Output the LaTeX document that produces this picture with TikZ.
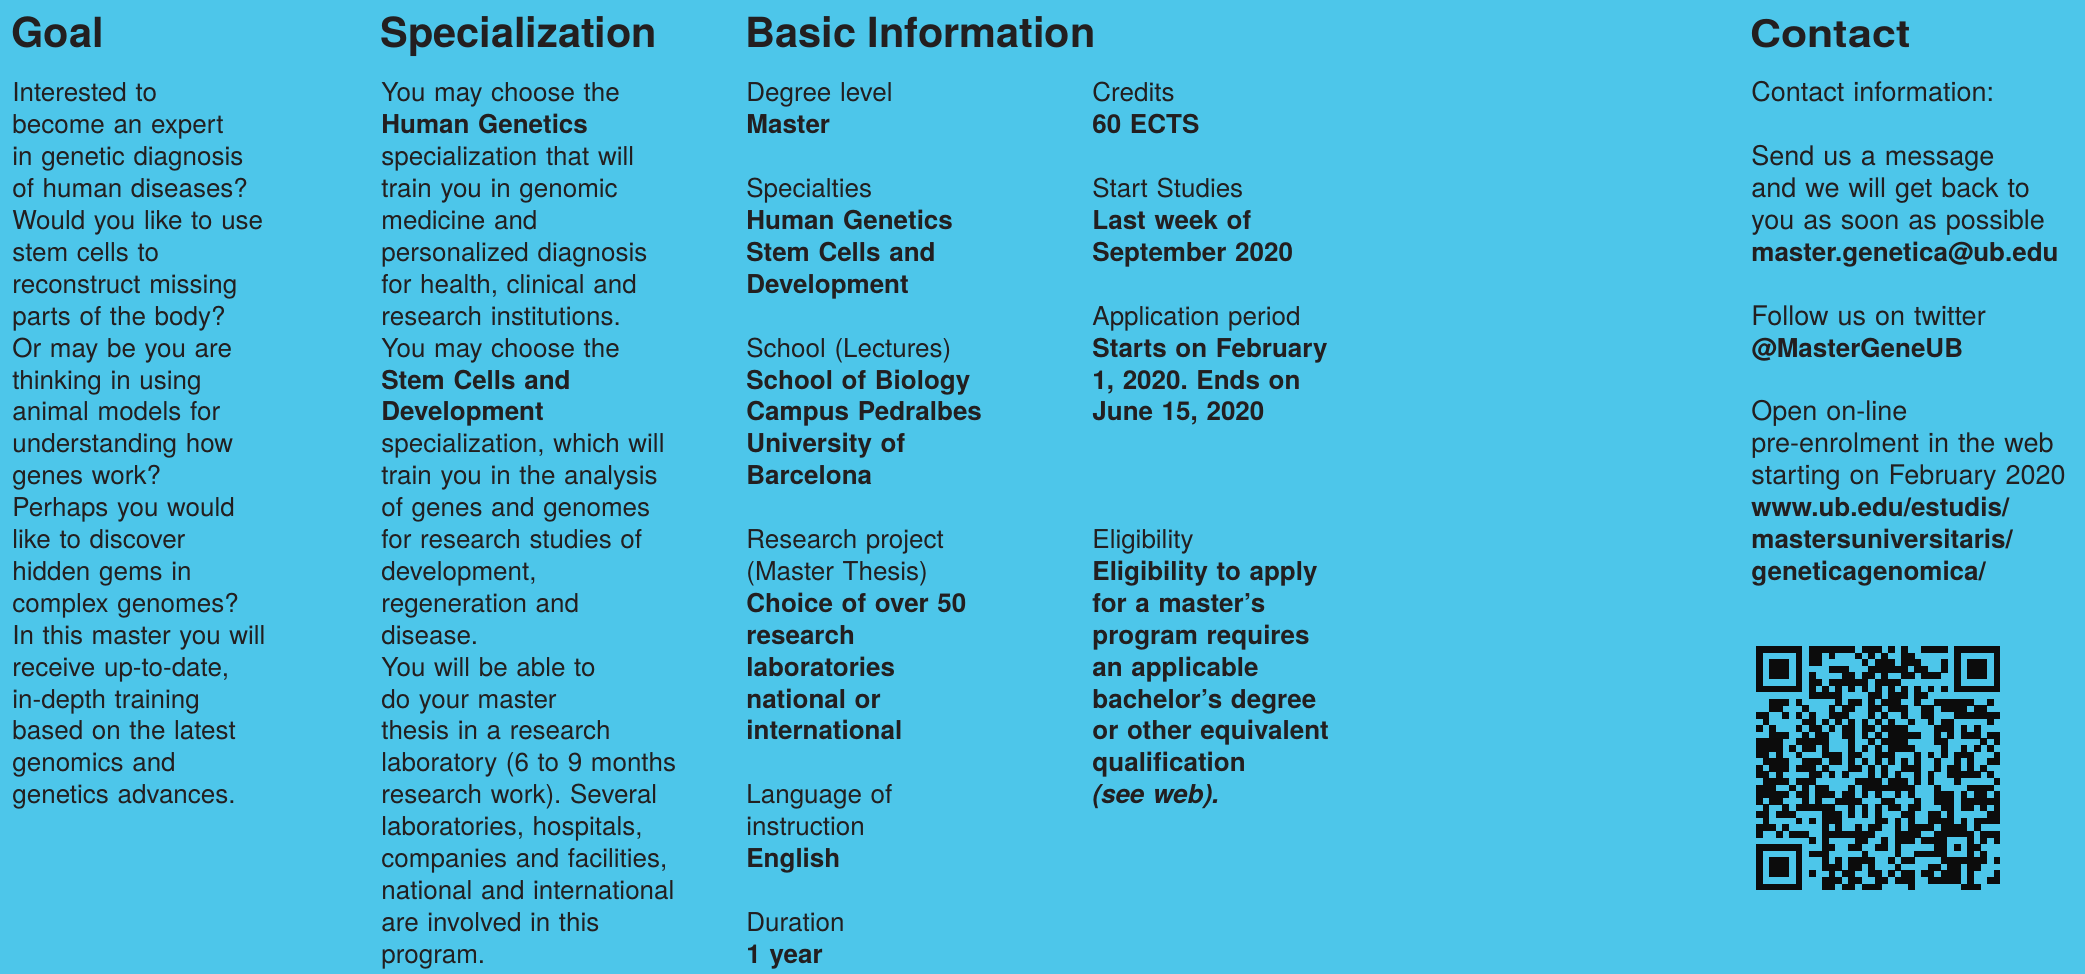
\documentclass[tikz,border=0pt]{standalone}
\usepackage{fontspec}
\setmainfont{TeX Gyre Heros}
\newfontfamily\contactfamily[FakeStretch=1.13]{TeX Gyre Heros}
\definecolor{bg}{RGB}{77,198,234}
\definecolor{ink}{RGB}{35,31,32}
\definecolor{qrink}{RGB}{12,12,12}
\tikzset{
  head/.style={anchor=base west, inner sep=0pt, text=ink, font=\fontsize{20.75}{24}\selectfont\bfseries},
  chead/.style={anchor=base west, inner sep=0pt, text=ink, font=\contactfamily\fontsize{19}{24}\selectfont\bfseries},
  body/.style={anchor=base west, inner sep=0pt, text=ink, align=left, text width=175pt, font=\frenchspacing\fontsize{13}{15.95}\selectfont},
  cbody/.style={anchor=base west, inner sep=0pt, text=ink, align=left, text width=165pt, font=\frenchspacing\fontsize{13.5}{15.95}\selectfont},
  qrmod/.style={fill=qrink},
}
\newcommand\blankline{\\[\baselineskip]}
\newcommand\cbold[1]{{\fontsize{13}{15.95}\selectfont\bfseries #1}}
\begin{document}
\begin{tikzpicture}[x=0.5pt,y=-0.5pt]
\useasboundingbox (0,0) rectangle (2085,974);
\fill[bg] (0,0) rectangle (2085,974);

% headers
\node[head] (goalH) at (11,48) {Goal};
\node[head] (specH) at (380,48) {Specialization};
\node[head] (basicH) at (745,48) {Basic Information};
\node[chead] (contH) at (1750,48) {Contact};

% Goal column
\node[body] (goal) at (12,102) {Interested to\\
become an expert\\
in genetic diagnosis\\
of human diseases?\\
Would you like to use\\
stem cells to\\
reconstruct missing\\
parts of the body?\\
Or may be you are\\
thinking in using\\
animal models for\\
understanding how\\
genes work?\\
Perhaps you would\\
like to discover\\
hidden gems in\\
complex genomes?\\
In this master you will\\
receive up-to-date,\\
in-depth training\\
based on the latest\\
genomics and\\
genetics advances.};

% Specialization column
\node[body] (spec) at (381,102) {You may choose the\\
\textbf{Human Genetics}\\
specialization that will\\
train you in genomic\\
medicine and\\
personalized diagnosis\\
for health, clinical and\\
research institutions.\\
You may choose the\\
\textbf{Stem Cells and}\\
\textbf{Development}\\
specialization, which will\\
train you in the analysis\\
of genes and genomes\\
for research studies of\\
development,\\
regeneration and\\
disease.\\
You will be able to\\
do your master\\
thesis in a research\\
laboratory (6 to 9 months\\
research work). Several\\
laboratories, hospitals,\\
companies and facilities,\\
national and international\\
are involved in this\\
program.};

% Basic information, column 1
\node[body] (basic1) at (746,102) {Degree level\\
\textbf{Master}\blankline
Specialties\\
\textbf{Human Genetics}\\
\textbf{Stem Cells and}\\
\textbf{Development}\blankline
School (Lectures)\\
\textbf{School of Biology}\\
\textbf{Campus Pedralbes}\\
\textbf{University of}\\
\textbf{Barcelona}\blankline
Research project\\
(Master Thesis)\\
\textbf{Choice of over 50}\\
\textbf{research}\\
\textbf{laboratories}\\
\textbf{national or}\\
\textbf{international}\blankline
Language of\\
instruction\\
\textbf{English}\blankline
Duration\\
\textbf{1 year}};

% Basic information, column 2
\node[body] (basic2) at (1092,102) {Credits\\
\textbf{60 ECTS}\blankline
Start Studies\\
\textbf{Last week of}\\
\textbf{September 2020}\blankline
Application period\\
\textbf{Starts on February}\\
\textbf{1, 2020. Ends on}\\
\textbf{June 15, 2020}\\[3\baselineskip]
Eligibility\\
\textbf{Eligibility to apply}\\
\textbf{for a master’s}\\
\textbf{program requires}\\
\textbf{an applicable}\\
\textbf{bachelor’s degree}\\
\textbf{or other equivalent}\\
\textbf{qualification}\\
\textbf{\itshape (see web).}};

% Contact column
\node[cbody] (contact) at (1751,102) {Contact information:\blankline
Send us a message\\
and we will get back to\\
you as soon as possible\\
\cbold{master.genetica@ub.edu}\blankline
Follow us on twitter\\
\cbold{@MasterGeneUB}\blankline
Open on-line\\
pre-enrolment in the web\\
starting on February 2020\\
\cbold{www.ub.edu/estudis/}\\
\cbold{mastersuniversitaris/}\\
\cbold{geneticagenomica/}};

% QR code (37 x 37 modules)
\def\qx{1756}\def\qy{646}\def\qm{6.6}
\foreach \fc/\fr in {0/0,30/0,0/30}{
  \fill[qrink] ({\qx+\fc*\qm},{\qy+\fr*\qm}) rectangle +({7*\qm},{7*\qm});
  \fill[bg] ({\qx+(\fc+1)*\qm},{\qy+(\fr+1)*\qm}) rectangle +({5*\qm},{5*\qm});
  \fill[qrink] ({\qx+(\fc+2)*\qm},{\qy+(\fr+2)*\qm}) rectangle +({3*\qm},{3*\qm});
}
\fill[qrink] ({\qx+28*\qm},{\qy+28*\qm}) rectangle +({5*\qm},{5*\qm});
\fill[bg] ({\qx+29*\qm},{\qy+29*\qm}) rectangle +({3*\qm},{3*\qm});
\fill[qrink] ({\qx+30*\qm},{\qy+30*\qm}) rectangle +({\qm},{\qm});
\foreach \i in {8,10,...,28}{
  \fill[qrink] ({\qx+\i*\qm},{\qy+6*\qm}) rectangle +({\qm+0.2},{\qm+0.2});
  \fill[qrink] ({\qx+6*\qm},{\qy+\i*\qm}) rectangle +({\qm+0.2},{\qm+0.2});
}
\pgfmathsetseed{4242}
\foreach \r in {0,...,36}{
  \foreach \c in {0,...,36}{
    \pgfmathsetmacro\qrv{rnd}
    \pgfmathtruncatemacro\qrskip{((\r<8)&&(\c<8)) || ((\r<8)&&(\c>28)) || ((\r>28)&&(\c<8)) || (\r==6) || (\c==6) || ((\r>27)&&(\r<33)&&(\c>27)&&(\c<33)) ? 1 : 0}
    \ifnum\qrskip=0
      \ifdim\qrv pt<0.5pt
        \fill[qrmod] ({\qx+\c*\qm},{\qy+\r*\qm}) rectangle +({\qm+0.2},{\qm+0.2});
      \fi
    \fi
  }
}
\end{tikzpicture}
\end{document}
